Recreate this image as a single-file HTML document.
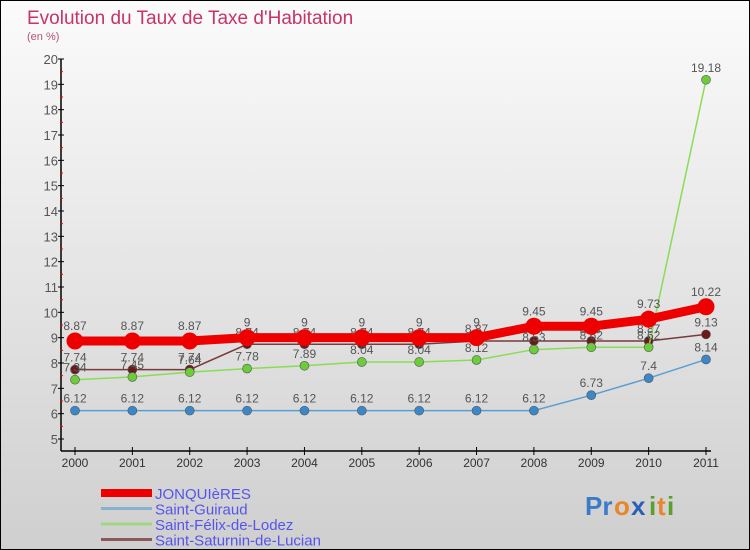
<!DOCTYPE html>
<html><head><meta charset="utf-8"><style>
html,body{margin:0;padding:0;}
body{width:750px;height:550px;overflow:hidden;font-family:"Liberation Sans",sans-serif;}
#wrap{position:relative;width:748px;height:548px;border:1px solid #000;background:linear-gradient(#fbfbfb,#cfcfcf);}
svg{position:absolute;left:0;top:0;}
</style></head><body>
<div id="wrap">
<svg id="chart" width="748" height="548">
<text x="26" y="23" font-size="19" fill="#c8336a">Evolution du Taux de Taxe d'Habitation</text>
<text x="26" y="39" font-size="11" fill="#b0547a">(en %)</text>
<g id="axes"></g><g id="series"></g><g id="legend"></g>
<g font-size="26" font-weight="bold" font-family="Liberation Sans,sans-serif">
<text x="584" y="514" fill="#3a7cc8">Pr</text><text x="613" y="514" fill="#e8862a">o</text><text x="630" y="514" fill="#2a5fb8">x</text><text x="648" y="514" fill="#5aa02a">i</text><text x="656" y="514" fill="#e8862a">t</text><text x="666" y="514" fill="#5aa02a">i</text>
</g>
</svg></div>
<script>
const years=[2000,2001,2002,2003,2004,2005,2006,2007,2008,2009,2010,2011];
const jonq=[8.87,8.87,8.87,9,9,9,9,9,9.45,9.45,9.73,10.22];
const guiraud=[6.12,6.12,6.12,6.12,6.12,6.12,6.12,6.12,6.12,6.73,7.4,8.14];
const felix=[7.34,7.45,7.64,7.78,7.89,8.04,8.04,8.12,8.53,8.62,8.62,19.18];
const saturnin=[7.74,7.74,7.74,8.74,8.74,8.74,8.74,8.87,8.87,8.87,8.87,9.13];
const yTicks=[5,6,7,8,9,10,11,12,13,14,15,16,17,18,19,20];
const names=["JONQUIèRES","Saint-Guiraud","Saint-Félix-de-Lodez","Saint-Saturnin-de-Lucian"];
const NS="http://www.w3.org/2000/svg";
const x=i=>74+i*(705-74)/11;
const y=v=>438-(v-5)*(438-58)/15;
function mk(t,a,p){const e=document.createElementNS(NS,t);for(const k in a)e.setAttribute(k,a[k]);p.appendChild(e);return e;}
const ax=document.getElementById('axes');
let l=mk('line',{x1:60,y1:58,x2:60,y2:450,stroke:'#000','stroke-width':1.5},ax);

l=mk('line',{x1:60,y1:450,x2:710,y2:450,stroke:'#000','stroke-width':1.5},ax);

yTicks.forEach(v=>{
 mk('line',{x1:57,y1:y(v),x2:63,y2:y(v),stroke:'#000'},ax);
 if(v<20)mk('line',{x1:59,y1:y(v+0.5),x2:62,y2:y(v+0.5),stroke:'#e00'},ax);
 const t=mk('text',{x:57,y:y(v)+5,'font-size':13,fill:'#555','text-anchor':'end'},ax);t.textContent=v;
 
});
years.forEach((yr,i)=>{
 mk('line',{x1:x(i),y1:446,x2:x(i),y2:454,stroke:'#000'},ax);
 const t=mk('text',{x:x(i),y:466,'font-size':12,fill:'#333','text-anchor':'middle'},ax);t.textContent=yr;
 
});
const sg=document.getElementById('series');
const cfg=[[saturnin,'#7a3a3a',1.5,4.5,'#6a1a1a','series-saint-saturnin'],[felix,'#88dd55',1.5,4.5,'#6ccc3a','series-saint-felix'],[guiraud,'#5a9fd4',1.5,4.5,'#3a88c8','series-saint-guiraud'],[jonq,'#ee0000',9,8.5,'#ee0000','series-jonquieres']];
cfg.forEach(([d,c,w,r,fc,nm])=>{
 const g=mk('g',{},sg);
 mk('polyline',{points:d.map((v,i)=>x(i)+','+y(v)).join(' '),fill:'none',stroke:c,'stroke-width':w},g);
 d.forEach((v,i)=>{
  const p=mk('circle',{cx:x(i),cy:y(v),r:r,fill:fc,stroke:'#555','stroke-width':r>5?0:0.6},g);
  
  const t=mk('text',{x:x(i),y:y(v)-(r>5?11:8),'font-size':12,fill:'#555','text-anchor':'middle'},g);t.textContent=v;
  
 });
});
const lg=document.getElementById('legend');
const lc=[['#ee0000',8],['#88b0d0',3],['#a0d880',3],['#8a5a5a',3]];
names.forEach((n,i)=>{
 const g=mk('g',{},lg);
 const yy=492+i*15.5;
 mk('line',{x1:100,y1:yy,x2:151,y2:yy,stroke:lc[i][0],'stroke-width':lc[i][1]},g);
 const t=mk('text',{x:154,y:yy+6,'font-size':15,fill:'#5555ee'},g);t.textContent=n;
});
</script>
</body></html>
